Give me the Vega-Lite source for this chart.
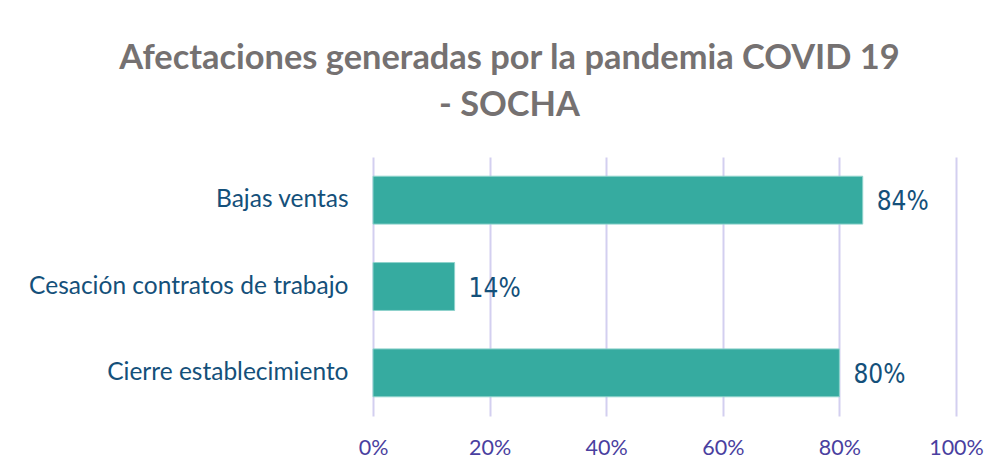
{
  "$schema": "https://vega.github.io/schema/vega-lite/v6.json",
  "autosize": {"type": "none"},
  "padding": {"left": 373, "top": 157, "right": 42, "bottom": 52},
  "width": 583,
  "height": 259,
  "background": "white",
  "title": {
    "text": ["Afectaciones generadas por la pandemia COVID 19", "- SOCHA"],
    "font": "Lato",
    "fontSize": 34.4,
    "fontWeight": "bold",
    "color": "#757171",
    "anchor": "middle",
    "frame": "group",
    "dx": -155,
    "lineHeight": 47,
    "offset": 34
  },
  "data": {
    "values": [
      {"afectacion": "Bajas ventas", "valor": 0.84},
      {"afectacion": "Cesación contratos de trabajo", "valor": 0.14},
      {"afectacion": "Cierre establecimiento", "valor": 0.80}
    ]
  },
  "encoding": {
    "y": {
      "field": "afectacion",
      "type": "nominal",
      "sort": null,
      "title": null,
      "scale": {"paddingInner": 0.445, "paddingOuter": 0.2225},
      "axis": {
        "domain": false,
        "ticks": false,
        "grid": false,
        "labelPadding": 25,
        "labelFont": "Lato",
        "labelFontSize": 24.5,
        "labelColor": "#14507A",
        "labelLimit": 400
      }
    },
    "x": {
      "field": "valor",
      "type": "quantitative",
      "title": null,
      "scale": {"domain": [0, 1]},
      "axis": {
        "format": ".0%",
        "values": [0, 0.2, 0.4, 0.6, 0.8, 1],
        "domain": false,
        "ticks": false,
        "grid": true,
        "gridColor": "#D3CFF0",
        "gridWidth": 2,
        "gridOpacity": 1,
        "labelFlush": false,
        "labelPadding": 21,
        "labelFont": "Lato",
        "labelFontSize": 21.5,
        "labelColor": "#4A3FA0"
      }
    }
  },
  "layer": [
    {
      "mark": {"type": "bar", "color": "#36ABA0", "stroke": "#8FD3CC", "strokeWidth": 1}
    },
    {
      "mark": {
        "type": "text",
        "align": "left",
        "baseline": "middle",
        "dx": 14,
        "dy": 2,
        "font": "DejaVu Sans Condensed, sans-serif",
        "fontSize": 26,
        "color": "#14507A"
      },
      "encoding": {
        "text": {"field": "valor", "type": "quantitative", "format": ".0%"}
      }
    }
  ],
  "config": {"view": {"stroke": null}}
}
